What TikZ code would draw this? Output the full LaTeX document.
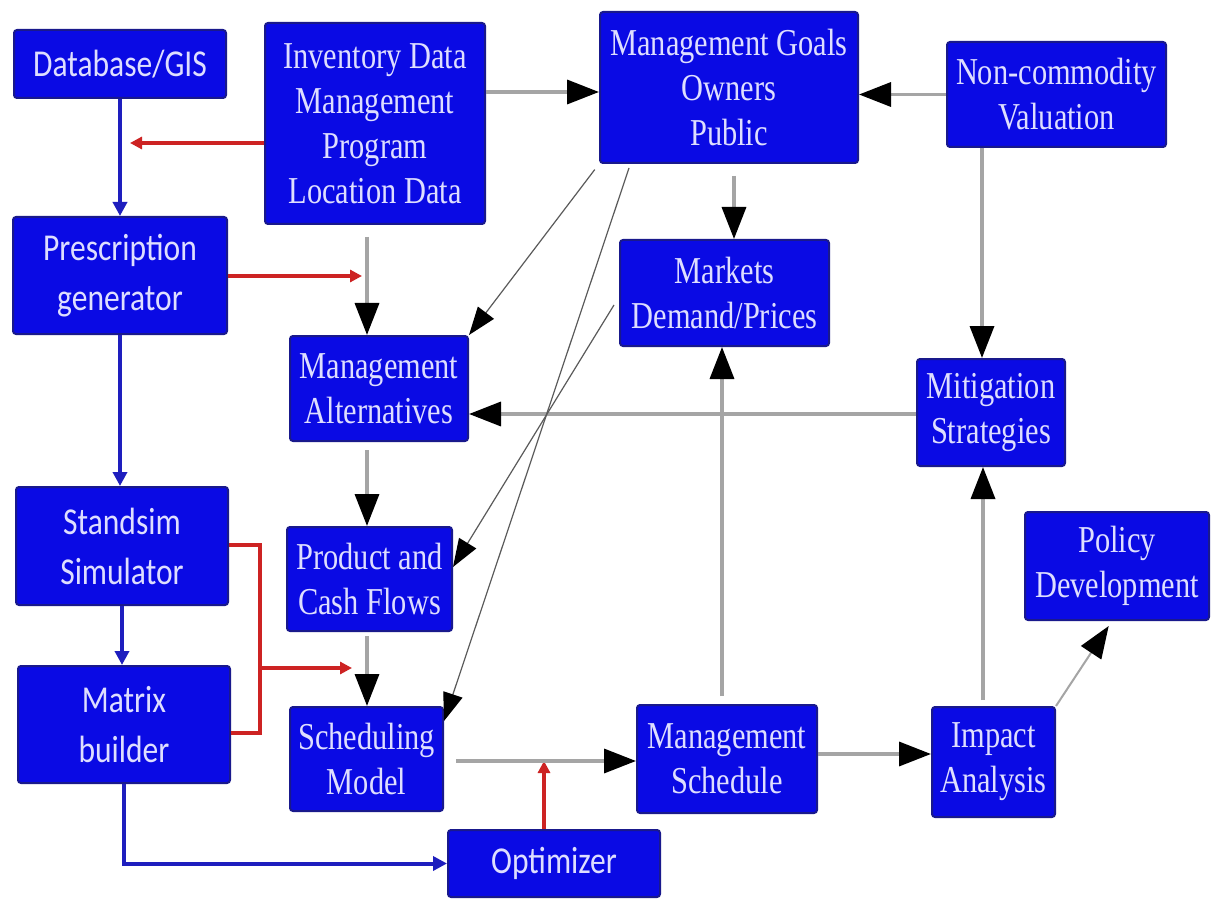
\documentclass[tikz,border=0pt]{standalone}
\usepackage{fontspec}
\newfontfamily\boxserif[FakeStretch=0.8]{Liberation Serif}
\newfontfamily\boxsans[FakeStretch=0.83]{Carlito}
\usetikzlibrary{arrows.meta,calc}
\definecolor{boxfill}{RGB}{10,10,228}
\definecolor{boxedge}{RGB}{25,25,140}
\definecolor{boxtext}{RGB}{222,222,255}
\definecolor{flowgray}{RGB}{165,165,165}
\definecolor{flowblue}{RGB}{30,30,190}
\definecolor{flowred}{RGB}{205,35,35}
\definecolor{diaggray}{RGB}{90,90,90}
% box from corner (x1,y1) to corner (x2,y2)
\newcommand\boxat[7]{\node[#1, minimum width={(#5-#3)*1pt}, minimum height={(#6-#4)*1pt}] (#2) at ({(#3+#5)/2},{(#4+#6)/2}) {#7};}
\begin{document}
\begin{tikzpicture}[x=1pt,y=-1pt,
  blk/.style={draw=boxedge, fill=boxfill, line width=2pt, text=boxtext, align=center, inner sep=0pt, rounded corners=3pt},
  serifblk/.style={blk, font=\boxserif\fontsize{38}{45}\selectfont},
  sansblk/.style={blk, font=\boxsans\fontsize{38}{50}\selectfont},
  grayflow/.style={draw=flowgray, line width=3.5pt, -{Triangle[length=32pt,width=24pt,color=black]}},
  thinflow/.style={draw=diaggray, line width=1.2pt, -{Triangle[length=28pt,width=20pt,color=black]}},
  blueline/.style={draw=flowblue, line width=4pt},
  blueflow/.style={blueline, -{Triangle[length=14pt,width=14pt]}},
  redline/.style={draw=flowred, line width=4pt},
  redflow/.style={redline, -{Triangle[length=12pt,width=12pt]}}
]
\useasboundingbox[fill=white] (0,0) rectangle (1211,912);

% boxes
\boxat{sansblk}{db}{14}{30}{226}{98}{Database/GIS}
\boxat{serifblk}{inv}{265}{23}{485}{224}{Inventory Data\\Management\\Program\\Location Data}
\boxat{serifblk}{goals}{600}{12}{858}{163}{Management Goals\\Owners\\Public}
\boxat{serifblk}{noncom}{947}{42}{1166}{147}{Non-commodity\\Valuation}
\boxat{sansblk}{presc}{13}{217}{227}{334}{Prescription\\generator}
\boxat{serifblk}{markets}{620}{240}{829}{346}{Markets\\Demand/Prices}
\boxat{serifblk}{alt}{290}{336}{468}{441}{Management\\Alternatives}
\boxat{serifblk}{mitig}{917}{359}{1065}{466}{Mitigation\\Strategies}
\boxat{sansblk}{stand}{16}{487}{228}{605}{Standsim\\Simulator}
\boxat{serifblk}{prod}{287}{527}{452}{631}{Product and\\Cash Flows}
\boxat{serifblk}{policy}{1025}{512}{1209}{620}{Policy\\Development}
\boxat{sansblk}{matrix}{18}{666}{230}{783}{Matrix\\builder}
\boxat{serifblk}{sched}{290}{707}{443}{811}{Scheduling\\Model}
\boxat{serifblk}{msched}{637}{705}{817}{813}{Management\\Schedule}
\boxat{serifblk}{impact}{932}{707}{1055}{817}{Impact\\Analysis}
\boxat{sansblk}{opt}{448}{830}{660}{897}{Optimizer}

% helper levels and columns for straight connectors
\coordinate (lvlA) at (0,92);
\coordinate (lvlB) at (0,414);
\coordinate (lvlC) at (0,761);
\coordinate (lvlD) at (0,754);
\coordinate (colA) at (734,0);
\coordinate (colB) at (367,0);
\coordinate (colC) at (982,0);
\coordinate (colD) at (722,0);
\coordinate (colE) at (983,0);

% blue data chain
\draw[blueflow] (db.south) -- (presc.north);
\draw[blueflow] (presc.south) -- (presc.south |- stand.north);
\draw[blueflow] (stand.south) -- (stand.south |- matrix.north);
\draw[blueflow] (matrix.south) |- (opt.west);

% red feeds
\coordinate (rInvEnd) at (130,143);
\draw[redflow] (inv.west |- rInvEnd) -- (rInvEnd);
\coordinate (rPresEnd) at (362,276);
\draw[redflow] (presc.east |- rPresEnd) -- (rPresEnd);
\coordinate (brTop) at (260,545);
\coordinate (brBot) at (260,733);
\coordinate (brMid) at (260,668);
\coordinate (brEnd) at (352,668);
\draw[redline] (stand.east |- brTop) -- (brTop) -- (brBot) -- (matrix.east |- brBot);
\draw[redflow] (brMid) -- (brEnd);
\coordinate (optUp) at (544,761);
\draw[redflow] (opt.north -| optUp) -- (optUp);

% gray flows
\draw[grayflow] (inv.east |- lvlA) -- (goals.west |- lvlA);
\draw[grayflow] (noncom.west) -- (noncom.west -| goals.east);
\draw[grayflow, shorten <=12pt] (goals.south -| colA) -- (markets.north -| colA);
\draw[grayflow, shorten <=12pt] (inv.south -| colB) -- (alt.north -| colB);
\draw[grayflow, shorten <=8pt] (alt.south -| colB) -- (prod.north -| colB);
\draw[grayflow, shorten <=4pt] (prod.south -| colB) -- (sched.north -| colB);
\draw[grayflow] (noncom.south -| colC) -- (mitig.north -| colC);
\draw[grayflow] (mitig.west |- lvlB) -- (alt.east |- lvlB);
\draw[grayflow, shorten <=8pt] (msched.north -| colD) -- (markets.south -| colD);
\draw[grayflow, shorten <=12pt] (sched.east |- lvlC) -- (msched.west |- lvlC);
\draw[grayflow] (msched.east |- lvlD) -- (impact.west |- lvlD);
\draw[grayflow, shorten <=6pt] (impact.north -| colE) -- (mitig.south -| colE);
\draw[grayflow, line width=2pt, shorten >=6pt] (impact.north east) -- ([xshift=-5pt]policy.south);

% thin diagonal flows
\draw[thinflow, shorten <=7pt] (goals.south west) -- (alt.north east);
\draw[thinflow] ([xshift=30pt,yshift=-4pt]goals.south west) -- ([yshift=-15pt]sched.north east);
\draw[thinflow] ([xshift=-5pt,yshift=-12pt]markets.west) -- ([yshift=12pt]prod.east);
\end{tikzpicture}
\end{document}
